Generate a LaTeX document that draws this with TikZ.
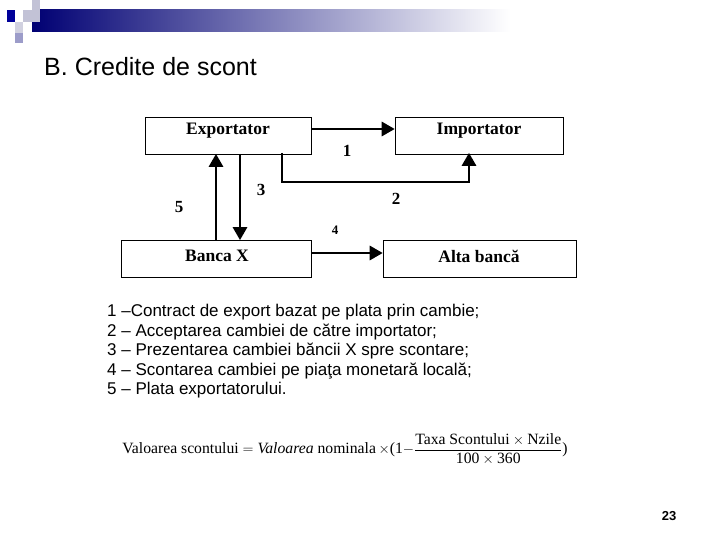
\documentclass[tikz,border=0pt]{standalone}
\usepackage{fontspec}
\setmainfont{Liberation Serif}
\newfontfamily\arialf[Ligatures=TeX]{Liberation Sans}
\usetikzlibrary{calc,shapes,arrows}

\begin{document}
\begin{tikzpicture}[x=1pt,y=-1pt,
  entbox/.style={draw, thick, minimum height=37pt, inner sep=0pt},
  entlab/.style={font=\bfseries\fontsize{17.5}{17.5}\selectfont},
  flow/.style={line width=2.6pt, -triangle 60},
  numlab/.style={font=\bfseries\fontsize{17}{17}\selectfont}]
  \useasboundingbox (0,0) rectangle (720,540);

  % header decoration
  \shade [left color=blue!45!black, right color=white] (32,10) rectangle (510,32);
  \fill [blue!20!gray!40] (32,0) rectangle (40,10);
  \fill [blue!20!gray!40] (23,10) rectangle (40,22);
  \fill [blue!60!black] (7,10) rectangle (15,22);
  \fill [blue!20!gray!30] (15,22) rectangle (23,33);
  \fill [blue!30!gray!60] (15,33) rectangle (23,43);
  \node [anchor=west, inner sep=0pt, font=\arialf\fontsize{25}{25}\selectfont] (title) at (44,67) {B. Credite de scont};

  % boxes
  \node [entbox, minimum width=166pt] (export) at (228,135.5) {};
  \node [entbox, minimum width=168pt] (import) at (479,135.5) {};
  \node [entbox, minimum width=190pt] (bancax) at (216,258.5) {};
  \node [entbox, minimum width=193pt] (altab) at (479.5,258.5) {};
  \node [entlab] (exportt) at (228,131) {Exportator};
  \node [entlab] (importt) at (479,131) {Importator};
  \node [entlab] (bancaxt) at (217,256) {Banca X};
  \node [entlab] (altabt) at (479,256) {Alta bancă};

  % flows
  \draw [flow] (export.east |- 0,129) -- (import.west |- 0,129);
  \draw [flow] (282,153) -- (282,182) -- (469,182) -- (469,153);
  \draw [flow] (216,240) -- (216,154);
  \draw [flow] (240,154) -- (240,240);
  \draw [flow] (bancax.east |- 0,253) -- (altab.west |- 0,253);
  \node [numlab] (n1) at (347,151) {1};
  \node [numlab] (n2) at (396,199) {2};
  \node [numlab] (n3) at (261,190) {3};
  \node [font=\bfseries\fontsize{13}{13}\selectfont] (n4) at (335,230) {4};
  \node [numlab] (n5) at (179,207) {5};

  % legend
  \node [anchor=north west, align=left, inner sep=0pt,
    font=\arialf\fontsize{17}{19.6}\selectfont] (legend) at (107,304)
    {1 --Contract de export bazat pe plata prin cambie;\\
     2 -- Acceptarea cambiei de către importator;\\
     3 -- Prezentarea cambiei băncii X spre scontare;\\
     4 -- Scontarea cambiei pe piaţa monetară locală;\\
     5 -- Plata exportatorului.};

  % formula
  \node [font=\fontsize{15.7}{15.7}\selectfont] (formula) at (345,449)
    {Valoarea scontului $=$ \textit{Valoarea} nominala\,$\times$(1$-$%
     $\displaystyle\frac{\hbox{Taxa Scontului}\times\hbox{Nzile}}{\hbox{100}\times\hbox{360}}$)};
  \node [font=\arialf\bfseries\fontsize{13}{13}\selectfont] (pagenum) at (669,516) {23};
\end{tikzpicture}
\end{document}
